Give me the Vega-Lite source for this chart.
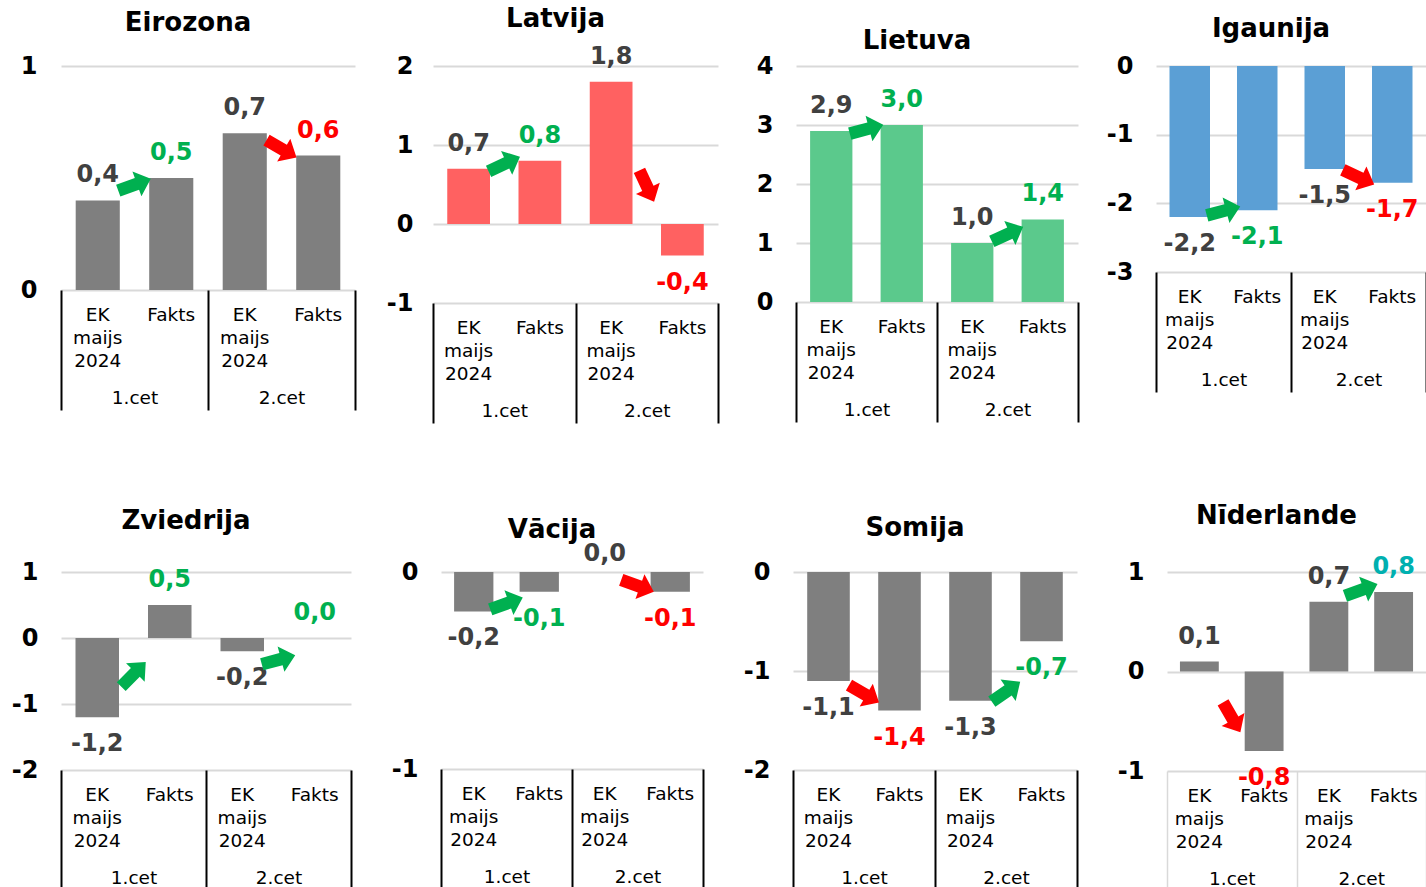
{
  "$schema": "https://vega.github.io/schema/vega-lite/v6.json",
  "padding": {"left": 11, "top": 5, "right": 0, "bottom": 0},
  "background": "white",
  "datasets": {
    "vertibas": [
      {"valsts": "Eirozona", "cet": "1.cet", "k": "1.cet|EK maijs 2024", "v": 0.4, "nov": "EK"},
      {"valsts": "Eirozona", "cet": "1.cet", "k": "1.cet|Fakts", "v": 0.5, "nov": "labāk"},
      {"valsts": "Eirozona", "cet": "2.cet", "k": "2.cet|EK maijs 2024", "v": 0.7, "nov": "EK"},
      {"valsts": "Eirozona", "cet": "2.cet", "k": "2.cet|Fakts", "v": 0.6, "nov": "sliktāk"},
      {"valsts": "Latvija", "cet": "1.cet", "k": "1.cet|EK maijs 2024", "v": 0.7, "nov": "EK"},
      {"valsts": "Latvija", "cet": "1.cet", "k": "1.cet|Fakts", "v": 0.8, "nov": "labāk"},
      {"valsts": "Latvija", "cet": "2.cet", "k": "2.cet|EK maijs 2024", "v": 1.8, "nov": "EK"},
      {"valsts": "Latvija", "cet": "2.cet", "k": "2.cet|Fakts", "v": -0.4, "nov": "sliktāk"},
      {"valsts": "Lietuva", "cet": "1.cet", "k": "1.cet|EK maijs 2024", "v": 2.9, "nov": "EK"},
      {"valsts": "Lietuva", "cet": "1.cet", "k": "1.cet|Fakts", "v": 3.0, "nov": "labāk"},
      {"valsts": "Lietuva", "cet": "2.cet", "k": "2.cet|EK maijs 2024", "v": 1.0, "nov": "EK"},
      {"valsts": "Lietuva", "cet": "2.cet", "k": "2.cet|Fakts", "v": 1.4, "nov": "labāk"},
      {"valsts": "Igaunija", "cet": "1.cet", "k": "1.cet|EK maijs 2024", "v": -2.2, "nov": "EK"},
      {"valsts": "Igaunija", "cet": "1.cet", "k": "1.cet|Fakts", "v": -2.1, "nov": "labāk"},
      {"valsts": "Igaunija", "cet": "2.cet", "k": "2.cet|EK maijs 2024", "v": -1.5, "nov": "EK"},
      {"valsts": "Igaunija", "cet": "2.cet", "k": "2.cet|Fakts", "v": -1.7, "nov": "sliktāk"},
      {"valsts": "Zviedrija", "cet": "1.cet", "k": "1.cet|EK maijs 2024", "v": -1.2, "nov": "EK"},
      {"valsts": "Zviedrija", "cet": "1.cet", "k": "1.cet|Fakts", "v": 0.5, "nov": "labāk"},
      {"valsts": "Zviedrija", "cet": "2.cet", "k": "2.cet|EK maijs 2024", "v": -0.2, "nov": "EK"},
      {"valsts": "Zviedrija", "cet": "2.cet", "k": "2.cet|Fakts", "v": 0.0, "nov": "labāk"},
      {"valsts": "Vācija", "cet": "1.cet", "k": "1.cet|EK maijs 2024", "v": -0.2, "nov": "EK"},
      {"valsts": "Vācija", "cet": "1.cet", "k": "1.cet|Fakts", "v": -0.1, "nov": "labāk"},
      {"valsts": "Vācija", "cet": "2.cet", "k": "2.cet|EK maijs 2024", "v": 0.0, "nov": "EK"},
      {"valsts": "Vācija", "cet": "2.cet", "k": "2.cet|Fakts", "v": -0.1, "nov": "sliktāk"},
      {"valsts": "Somija", "cet": "1.cet", "k": "1.cet|EK maijs 2024", "v": -1.1, "nov": "EK"},
      {"valsts": "Somija", "cet": "1.cet", "k": "1.cet|Fakts", "v": -1.4, "nov": "sliktāk"},
      {"valsts": "Somija", "cet": "2.cet", "k": "2.cet|EK maijs 2024", "v": -1.3, "nov": "EK"},
      {"valsts": "Somija", "cet": "2.cet", "k": "2.cet|Fakts", "v": -0.7, "nov": "labāk"},
      {"valsts": "Nīderlande", "cet": "1.cet", "k": "1.cet|EK maijs 2024", "v": 0.1, "nov": "EK"},
      {"valsts": "Nīderlande", "cet": "1.cet", "k": "1.cet|Fakts", "v": -0.8, "nov": "sliktāk"},
      {"valsts": "Nīderlande", "cet": "2.cet", "k": "2.cet|EK maijs 2024", "v": 0.7, "nov": "EK"},
      {"valsts": "Nīderlande", "cet": "2.cet", "k": "2.cet|Fakts", "v": 0.8, "nov": "labāk (cits)"}
    ],
    "bultas": [
      {"valsts": "Eirozona", "k": "1.cet|Fakts", "y": 0.47, "lenkis": -20, "nov": "labāk"},
      {"valsts": "Eirozona", "k": "2.cet|Fakts", "y": 0.63, "lenkis": 30, "nov": "sliktāk"},
      {"valsts": "Latvija", "k": "1.cet|Fakts", "y": 0.76, "lenkis": -25, "nov": "labāk"},
      {"valsts": "Latvija", "k": "2.cet|Fakts", "y": 0.48, "lenkis": 65, "nov": "sliktāk"},
      {"valsts": "Lietuva", "k": "1.cet|Fakts", "y": 2.93, "lenkis": -15, "nov": "labāk"},
      {"valsts": "Lietuva", "k": "2.cet|Fakts", "y": 1.15, "lenkis": -25, "nov": "labāk"},
      {"valsts": "Igaunija", "k": "1.cet|Fakts", "y": -2.11, "lenkis": -15, "nov": "labāk"},
      {"valsts": "Igaunija", "k": "2.cet|Fakts", "y": -1.62, "lenkis": 25, "nov": "sliktāk"},
      {"valsts": "Zviedrija", "k": "1.cet|Fakts", "y": -0.55, "lenkis": -45, "nov": "labāk"},
      {"valsts": "Zviedrija", "k": "2.cet|Fakts", "y": -0.33, "lenkis": -15, "nov": "labāk"},
      {"valsts": "Vācija", "k": "1.cet|Fakts", "y": -0.16, "lenkis": -20, "nov": "labāk"},
      {"valsts": "Vācija", "k": "2.cet|Fakts", "y": -0.07, "lenkis": 20, "nov": "sliktāk"},
      {"valsts": "Somija", "k": "1.cet|Fakts", "y": -1.23, "lenkis": 30, "nov": "sliktāk"},
      {"valsts": "Somija", "k": "2.cet|Fakts", "y": -1.21, "lenkis": -35, "nov": "labāk"},
      {"valsts": "Nīderlande", "k": "1.cet|Fakts", "y": -0.46, "lenkis": 60, "nov": "sliktāk"},
      {"valsts": "Nīderlande", "k": "2.cet|Fakts", "y": 0.82, "lenkis": -20, "nov": "labāk"}
    ]
  },
  "vconcat": [
    {
      "bounds": "flush",
      "spacing": 78,
      "hconcat": [
        {
          "width": 294, "height": 224,
          "title": {"text": "Eirozona", "offset": 18, "dx": -20},
          "layer": [
            {"layer": [
              {"data": {"name": "vertibas"}, "transform": [{"filter": "datum.valsts === 'Eirozona'"}],
               "mark": {"type": "bar", "color": "#7F7F7F"},
               "encoding": {
                 "x": {"field": "k", "type": "nominal", "scale": {"paddingInner": 0.4, "paddingOuter": 0.2}, "axis": {"domain": false, "ticks": false, "grid": false, "labelExpr": "split(split(datum.value, '|')[1], ' ')", "labelAngle": 0, "labelFontSize": 18.5, "labelColor": "black", "labelPadding": 15, "labelLineHeight": 23, "labelBaseline": "top", "labelOverlap": false, "title": null}},
                 "y": {"field": "v", "type": "quantitative", "scale": {"domain": [0, 1], "nice": false, "zero": false}, "axis": {"values": [0, 1], "labelPadding": 24, "title": null}}
               }},
              {"data": {"name": "vertibas"}, "transform": [{"filter": "datum.valsts === 'Eirozona' && datum.v >= 0"}],
               "mark": {"type": "text", "baseline": "middle", "dy": -25, "fontSize": 24, "fontWeight": "bold"},
               "encoding": {"x": {"field": "k", "type": "nominal"}, "y": {"field": "v", "type": "quantitative"}, "text": {"field": "v", "type": "quantitative", "format": ".1f"}, "color": {"field": "nov", "type": "nominal", "scale": {"domain": ["EK", "labāk", "sliktāk", "labāk (cits)"], "range": ["#404040", "#00B050", "#FF0000", "#00B0B0"]}, "legend": null}}},
              {"data": {"name": "vertibas"}, "transform": [{"filter": "datum.valsts === 'Eirozona' && datum.v < 0"}],
               "mark": {"type": "text", "baseline": "middle", "dy": 27, "fontSize": 24, "fontWeight": "bold"},
               "encoding": {"x": {"field": "k", "type": "nominal"}, "y": {"field": "v", "type": "quantitative"}, "text": {"field": "v", "type": "quantitative", "format": ".1f"}, "color": {"field": "nov", "type": "nominal", "scale": {"domain": ["EK", "labāk", "sliktāk", "labāk (cits)"], "range": ["#404040", "#00B050", "#FF0000", "#00B0B0"]}, "legend": null}}},
              {"data": {"name": "bultas"}, "transform": [{"filter": "datum.valsts === 'Eirozona'"}],
               "mark": {"type": "point", "filled": true, "opacity": 1, "size": 1200, "shape": "M-1,-0.36L0.15,-0.36L0.15,-0.76L1,0L0.15,0.76L0.15,0.36L-1,0.36Z", "xOffset": -36.75},
               "encoding": {"x": {"field": "k", "type": "nominal"}, "y": {"field": "y", "type": "quantitative"}, "angle": {"field": "lenkis", "type": "quantitative", "scale": null}, "color": {"field": "nov", "type": "nominal", "scale": {"domain": ["EK", "labāk", "sliktāk", "labāk (cits)"], "range": ["#404040", "#00B050", "#FF0000", "#00B0B0"]}, "legend": null}}},
              {"mark": {"type": "rule", "color": "black", "strokeWidth": 2}, "encoding": {"y": {"datum": 0}}}
            ]},
            {"data": {"name": "vertibas"}, "transform": [{"filter": "datum.valsts === 'Eirozona'"}],
             "mark": {"type": "point", "opacity": 0},
             "encoding": {"x": {"field": "cet", "type": "nominal", "scale": {"type": "band", "paddingInner": 0, "paddingOuter": 0}, "axis": {"orient": "bottom", "tickBand": "extent", "ticks": true, "tickSize": 120, "tickColor": "black", "tickWidth": 2, "domain": false, "grid": false, "labelAngle": 0, "labelFontSize": 18.5, "labelColor": "black", "labelPadding": -22, "labelBaseline": "top", "title": null}}}}
          ],
          "resolve": {"scale": {"x": "independent"}, "axis": {"x": "independent"}}
        },
        {
          "width": 285, "height": 237,
          "title": {"text": "Latvija", "offset": 13, "dx": -20},
          "layer": [
            {"layer": [
              {"data": {"name": "vertibas"}, "transform": [{"filter": "datum.valsts === 'Latvija'"}],
               "mark": {"type": "bar", "color": "#FF6161"},
               "encoding": {
                 "x": {"field": "k", "type": "nominal", "scale": {"paddingInner": 0.4, "paddingOuter": 0.2}, "axis": {"domain": false, "ticks": false, "grid": false, "labelExpr": "split(split(datum.value, '|')[1], ' ')", "labelAngle": 0, "labelFontSize": 18.5, "labelColor": "black", "labelPadding": 15, "labelLineHeight": 23, "labelBaseline": "top", "labelOverlap": false, "title": null}},
                 "y": {"field": "v", "type": "quantitative", "scale": {"domain": [-1, 2], "nice": false, "zero": false}, "axis": {"values": [-1, 0, 1, 2], "labelPadding": 20, "title": null}}
               }},
              {"data": {"name": "vertibas"}, "transform": [{"filter": "datum.valsts === 'Latvija' && datum.v >= 0"}],
               "mark": {"type": "text", "baseline": "middle", "dy": -25, "fontSize": 24, "fontWeight": "bold"},
               "encoding": {"x": {"field": "k", "type": "nominal"}, "y": {"field": "v", "type": "quantitative"}, "text": {"field": "v", "type": "quantitative", "format": ".1f"}, "color": {"field": "nov", "type": "nominal", "scale": {"domain": ["EK", "labāk", "sliktāk", "labāk (cits)"], "range": ["#404040", "#00B050", "#FF0000", "#00B0B0"]}, "legend": null}}},
              {"data": {"name": "vertibas"}, "transform": [{"filter": "datum.valsts === 'Latvija' && datum.v < 0"}],
               "mark": {"type": "text", "baseline": "middle", "dy": 27, "fontSize": 24, "fontWeight": "bold"},
               "encoding": {"x": {"field": "k", "type": "nominal"}, "y": {"field": "v", "type": "quantitative"}, "text": {"field": "v", "type": "quantitative", "format": ".1f"}, "color": {"field": "nov", "type": "nominal", "scale": {"domain": ["EK", "labāk", "sliktāk", "labāk (cits)"], "range": ["#404040", "#00B050", "#FF0000", "#00B0B0"]}, "legend": null}}},
              {"data": {"name": "bultas"}, "transform": [{"filter": "datum.valsts === 'Latvija'"}],
               "mark": {"type": "point", "filled": true, "opacity": 1, "size": 1200, "shape": "M-1,-0.36L0.15,-0.36L0.15,-0.76L1,0L0.15,0.76L0.15,0.36L-1,0.36Z", "xOffset": -35.6},
               "encoding": {"x": {"field": "k", "type": "nominal"}, "y": {"field": "y", "type": "quantitative"}, "angle": {"field": "lenkis", "type": "quantitative", "scale": null}, "color": {"field": "nov", "type": "nominal", "scale": {"domain": ["EK", "labāk", "sliktāk", "labāk (cits)"], "range": ["#404040", "#00B050", "#FF0000", "#00B0B0"]}, "legend": null}}},
              {"mark": {"type": "rule", "color": "black", "strokeWidth": 2}, "encoding": {"y": {"datum": 0}}}
            ]},
            {"data": {"name": "vertibas"}, "transform": [{"filter": "datum.valsts === 'Latvija'"}],
             "mark": {"type": "point", "opacity": 0},
             "encoding": {"x": {"field": "cet", "type": "nominal", "scale": {"type": "band", "paddingInner": 0, "paddingOuter": 0}, "axis": {"orient": "bottom", "tickBand": "extent", "ticks": true, "tickSize": 120, "tickColor": "black", "tickWidth": 2, "domain": false, "grid": false, "labelAngle": 0, "labelFontSize": 18.5, "labelColor": "black", "labelPadding": -22, "labelBaseline": "top", "title": null}}}}
          ],
          "resolve": {"scale": {"x": "independent"}, "axis": {"x": "independent"}}
        },
        {
          "width": 282, "height": 236,
          "title": {"text": "Lietuva", "offset": 0, "dx": -20},
          "layer": [
            {"layer": [
              {"data": {"name": "vertibas"}, "transform": [{"filter": "datum.valsts === 'Lietuva'"}],
               "mark": {"type": "bar", "color": "#5BC98C"},
               "encoding": {
                 "x": {"field": "k", "type": "nominal", "scale": {"paddingInner": 0.4, "paddingOuter": 0.2}, "axis": {"domain": false, "ticks": false, "grid": false, "labelExpr": "split(split(datum.value, '|')[1], ' ')", "labelAngle": 0, "labelFontSize": 18.5, "labelColor": "black", "labelPadding": 15, "labelLineHeight": 23, "labelBaseline": "top", "labelOverlap": false, "title": null}},
                 "y": {"field": "v", "type": "quantitative", "scale": {"domain": [0, 4], "nice": false, "zero": false}, "axis": {"values": [0, 1, 2, 3, 4], "labelPadding": 23, "title": null}}
               }},
              {"data": {"name": "vertibas"}, "transform": [{"filter": "datum.valsts === 'Lietuva' && datum.v >= 0"}],
               "mark": {"type": "text", "baseline": "middle", "dy": -25, "fontSize": 24, "fontWeight": "bold"},
               "encoding": {"x": {"field": "k", "type": "nominal"}, "y": {"field": "v", "type": "quantitative"}, "text": {"field": "v", "type": "quantitative", "format": ".1f"}, "color": {"field": "nov", "type": "nominal", "scale": {"domain": ["EK", "labāk", "sliktāk", "labāk (cits)"], "range": ["#404040", "#00B050", "#FF0000", "#00B0B0"]}, "legend": null}}},
              {"data": {"name": "vertibas"}, "transform": [{"filter": "datum.valsts === 'Lietuva' && datum.v < 0"}],
               "mark": {"type": "text", "baseline": "middle", "dy": 27, "fontSize": 24, "fontWeight": "bold"},
               "encoding": {"x": {"field": "k", "type": "nominal"}, "y": {"field": "v", "type": "quantitative"}, "text": {"field": "v", "type": "quantitative", "format": ".1f"}, "color": {"field": "nov", "type": "nominal", "scale": {"domain": ["EK", "labāk", "sliktāk", "labāk (cits)"], "range": ["#404040", "#00B050", "#FF0000", "#00B0B0"]}, "legend": null}}},
              {"data": {"name": "bultas"}, "transform": [{"filter": "datum.valsts === 'Lietuva'"}],
               "mark": {"type": "point", "filled": true, "opacity": 1, "size": 1200, "shape": "M-1,-0.36L0.15,-0.36L0.15,-0.76L1,0L0.15,0.76L0.15,0.36L-1,0.36Z", "xOffset": -35.25},
               "encoding": {"x": {"field": "k", "type": "nominal"}, "y": {"field": "y", "type": "quantitative"}, "angle": {"field": "lenkis", "type": "quantitative", "scale": null}, "color": {"field": "nov", "type": "nominal", "scale": {"domain": ["EK", "labāk", "sliktāk", "labāk (cits)"], "range": ["#404040", "#00B050", "#FF0000", "#00B0B0"]}, "legend": null}}},
              {"mark": {"type": "rule", "color": "black", "strokeWidth": 2}, "encoding": {"y": {"datum": 0}}}
            ]},
            {"data": {"name": "vertibas"}, "transform": [{"filter": "datum.valsts === 'Lietuva'"}],
             "mark": {"type": "point", "opacity": 0},
             "encoding": {"x": {"field": "cet", "type": "nominal", "scale": {"type": "band", "paddingInner": 0, "paddingOuter": 0}, "axis": {"orient": "bottom", "tickBand": "extent", "ticks": true, "tickSize": 120, "tickColor": "black", "tickWidth": 2, "domain": false, "grid": false, "labelAngle": 0, "labelFontSize": 18.5, "labelColor": "black", "labelPadding": -22, "labelBaseline": "top", "title": null}}}}
          ],
          "resolve": {"scale": {"x": "independent"}, "axis": {"x": "independent"}}
        },
        {
          "width": 270, "height": 206,
          "title": {"text": "Igaunija", "offset": 12, "dx": -20},
          "layer": [
            {"layer": [
              {"data": {"name": "vertibas"}, "transform": [{"filter": "datum.valsts === 'Igaunija'"}],
               "mark": {"type": "bar", "color": "#5B9FD5"},
               "encoding": {
                 "x": {"field": "k", "type": "nominal", "scale": {"paddingInner": 0.4, "paddingOuter": 0.2}, "axis": {"domain": false, "ticks": false, "grid": false, "labelExpr": "split(split(datum.value, '|')[1], ' ')", "labelAngle": 0, "labelFontSize": 18.5, "labelColor": "black", "labelPadding": 15, "labelLineHeight": 23, "labelBaseline": "top", "labelOverlap": false, "title": null}},
                 "y": {"field": "v", "type": "quantitative", "scale": {"domain": [-3, 0], "nice": false, "zero": false}, "axis": {"values": [-3, -2, -1, 0], "labelPadding": 23, "title": null}}
               }},
              {"data": {"name": "vertibas"}, "transform": [{"filter": "datum.valsts === 'Igaunija' && datum.v >= 0"}],
               "mark": {"type": "text", "baseline": "middle", "dy": -25, "fontSize": 24, "fontWeight": "bold"},
               "encoding": {"x": {"field": "k", "type": "nominal"}, "y": {"field": "v", "type": "quantitative"}, "text": {"field": "v", "type": "quantitative", "format": ".1f"}, "color": {"field": "nov", "type": "nominal", "scale": {"domain": ["EK", "labāk", "sliktāk", "labāk (cits)"], "range": ["#404040", "#00B050", "#FF0000", "#00B0B0"]}, "legend": null}}},
              {"data": {"name": "vertibas"}, "transform": [{"filter": "datum.valsts === 'Igaunija' && datum.v < 0"}],
               "mark": {"type": "text", "baseline": "middle", "dy": 27, "fontSize": 24, "fontWeight": "bold"},
               "encoding": {"x": {"field": "k", "type": "nominal"}, "y": {"field": "v", "type": "quantitative"}, "text": {"field": "v", "type": "quantitative", "format": ".1f"}, "color": {"field": "nov", "type": "nominal", "scale": {"domain": ["EK", "labāk", "sliktāk", "labāk (cits)"], "range": ["#404040", "#00B050", "#FF0000", "#00B0B0"]}, "legend": null}}},
              {"data": {"name": "bultas"}, "transform": [{"filter": "datum.valsts === 'Igaunija'"}],
               "mark": {"type": "point", "filled": true, "opacity": 1, "size": 1200, "shape": "M-1,-0.36L0.15,-0.36L0.15,-0.76L1,0L0.15,0.76L0.15,0.36L-1,0.36Z", "xOffset": -33.75},
               "encoding": {"x": {"field": "k", "type": "nominal"}, "y": {"field": "y", "type": "quantitative"}, "angle": {"field": "lenkis", "type": "quantitative", "scale": null}, "color": {"field": "nov", "type": "nominal", "scale": {"domain": ["EK", "labāk", "sliktāk", "labāk (cits)"], "range": ["#404040", "#00B050", "#FF0000", "#00B0B0"]}, "legend": null}}},
              {"mark": {"type": "rule", "color": "black", "strokeWidth": 2}, "encoding": {"y": {"datum": 0}}}
            ]},
            {"data": {"name": "vertibas"}, "transform": [{"filter": "datum.valsts === 'Igaunija'"}],
             "mark": {"type": "point", "opacity": 0},
             "encoding": {"x": {"field": "cet", "type": "nominal", "scale": {"type": "band", "paddingInner": 0, "paddingOuter": 0}, "axis": {"orient": "bottom", "tickBand": "extent", "ticks": true, "tickSize": 120, "tickColor": "black", "tickWidth": 2, "domain": false, "grid": false, "labelAngle": 0, "labelFontSize": 18.5, "labelColor": "black", "labelPadding": -22, "labelBaseline": "top", "title": null}}}}
          ],
          "resolve": {"scale": {"x": "independent"}, "axis": {"x": "independent"}}
        }
      ]
    },
    {
      "bounds": "flush",
      "spacing": 90,
      "hconcat": [
        {
          "width": 290, "height": 198,
          "title": {"text": "Zviedrija", "offset": 26, "dx": -20},
          "layer": [
            {"layer": [
              {"data": {"name": "vertibas"}, "transform": [{"filter": "datum.valsts === 'Zviedrija'"}],
               "mark": {"type": "bar", "color": "#7F7F7F"},
               "encoding": {
                 "x": {"field": "k", "type": "nominal", "scale": {"paddingInner": 0.4, "paddingOuter": 0.2}, "axis": {"domain": false, "ticks": false, "grid": false, "labelExpr": "split(split(datum.value, '|')[1], ' ')", "labelAngle": 0, "labelFontSize": 18.5, "labelColor": "black", "labelPadding": 15, "labelLineHeight": 23, "labelBaseline": "top", "labelOverlap": false, "title": null}},
                 "y": {"field": "v", "type": "quantitative", "scale": {"domain": [-2, 1], "nice": false, "zero": false}, "axis": {"values": [-2, -1, 0, 1], "labelPadding": 23, "title": null}}
               }},
              {"data": {"name": "vertibas"}, "transform": [{"filter": "datum.valsts === 'Zviedrija' && datum.v >= 0"}],
               "mark": {"type": "text", "baseline": "middle", "dy": -25, "fontSize": 24, "fontWeight": "bold"},
               "encoding": {"x": {"field": "k", "type": "nominal"}, "y": {"field": "v", "type": "quantitative"}, "text": {"field": "v", "type": "quantitative", "format": ".1f"}, "color": {"field": "nov", "type": "nominal", "scale": {"domain": ["EK", "labāk", "sliktāk", "labāk (cits)"], "range": ["#404040", "#00B050", "#FF0000", "#00B0B0"]}, "legend": null}}},
              {"data": {"name": "vertibas"}, "transform": [{"filter": "datum.valsts === 'Zviedrija' && datum.v < 0"}],
               "mark": {"type": "text", "baseline": "middle", "dy": 27, "fontSize": 24, "fontWeight": "bold"},
               "encoding": {"x": {"field": "k", "type": "nominal"}, "y": {"field": "v", "type": "quantitative"}, "text": {"field": "v", "type": "quantitative", "format": ".1f"}, "color": {"field": "nov", "type": "nominal", "scale": {"domain": ["EK", "labāk", "sliktāk", "labāk (cits)"], "range": ["#404040", "#00B050", "#FF0000", "#00B0B0"]}, "legend": null}}},
              {"data": {"name": "bultas"}, "transform": [{"filter": "datum.valsts === 'Zviedrija'"}],
               "mark": {"type": "point", "filled": true, "opacity": 1, "size": 1200, "shape": "M-1,-0.36L0.15,-0.36L0.15,-0.76L1,0L0.15,0.76L0.15,0.36L-1,0.36Z", "xOffset": -36.25},
               "encoding": {"x": {"field": "k", "type": "nominal"}, "y": {"field": "y", "type": "quantitative"}, "angle": {"field": "lenkis", "type": "quantitative", "scale": null}, "color": {"field": "nov", "type": "nominal", "scale": {"domain": ["EK", "labāk", "sliktāk", "labāk (cits)"], "range": ["#404040", "#00B050", "#FF0000", "#00B0B0"]}, "legend": null}}},
              {"mark": {"type": "rule", "color": "black", "strokeWidth": 2}, "encoding": {"y": {"datum": 0}}}
            ]},
            {"data": {"name": "vertibas"}, "transform": [{"filter": "datum.valsts === 'Zviedrija'"}],
             "mark": {"type": "point", "opacity": 0},
             "encoding": {"x": {"field": "cet", "type": "nominal", "scale": {"type": "band", "paddingInner": 0, "paddingOuter": 0}, "axis": {"orient": "bottom", "tickBand": "extent", "ticks": true, "tickSize": 120, "tickColor": "black", "tickWidth": 2, "domain": false, "grid": false, "labelAngle": 0, "labelFontSize": 18.5, "labelColor": "black", "labelPadding": -22, "labelBaseline": "top", "title": null}}}}
          ],
          "resolve": {"scale": {"x": "independent"}, "axis": {"x": "independent"}}
        },
        {
          "width": 262, "height": 197,
          "title": {"text": "Vācija", "offset": -1, "dx": -20},
          "layer": [
            {"layer": [
              {"data": {"name": "vertibas"}, "transform": [{"filter": "datum.valsts === 'Vācija'"}],
               "mark": {"type": "bar", "color": "#7F7F7F"},
               "encoding": {
                 "x": {"field": "k", "type": "nominal", "scale": {"paddingInner": 0.4, "paddingOuter": 0.2}, "axis": {"domain": false, "ticks": false, "grid": false, "labelExpr": "split(split(datum.value, '|')[1], ' ')", "labelAngle": 0, "labelFontSize": 18.5, "labelColor": "black", "labelPadding": 15, "labelLineHeight": 23, "labelBaseline": "top", "labelOverlap": false, "title": null}},
                 "y": {"field": "v", "type": "quantitative", "scale": {"domain": [-1, 0], "nice": false, "zero": false}, "axis": {"values": [-1, 0], "labelPadding": 23, "title": null}}
               }},
              {"data": {"name": "vertibas"}, "transform": [{"filter": "datum.valsts === 'Vācija' && datum.v >= 0"}],
               "mark": {"type": "text", "baseline": "middle", "dy": -18, "fontSize": 24, "fontWeight": "bold"},
               "encoding": {"x": {"field": "k", "type": "nominal"}, "y": {"field": "v", "type": "quantitative"}, "text": {"field": "v", "type": "quantitative", "format": ".1f"}, "color": {"field": "nov", "type": "nominal", "scale": {"domain": ["EK", "labāk", "sliktāk", "labāk (cits)"], "range": ["#404040", "#00B050", "#FF0000", "#00B0B0"]}, "legend": null}}},
              {"data": {"name": "vertibas"}, "transform": [{"filter": "datum.valsts === 'Vācija' && datum.v < 0"}],
               "mark": {"type": "text", "baseline": "middle", "dy": 27, "fontSize": 24, "fontWeight": "bold"},
               "encoding": {"x": {"field": "k", "type": "nominal"}, "y": {"field": "v", "type": "quantitative"}, "text": {"field": "v", "type": "quantitative", "format": ".1f"}, "color": {"field": "nov", "type": "nominal", "scale": {"domain": ["EK", "labāk", "sliktāk", "labāk (cits)"], "range": ["#404040", "#00B050", "#FF0000", "#00B0B0"]}, "legend": null}}},
              {"data": {"name": "bultas"}, "transform": [{"filter": "datum.valsts === 'Vācija'"}],
               "mark": {"type": "point", "filled": true, "opacity": 1, "size": 1200, "shape": "M-1,-0.36L0.15,-0.36L0.15,-0.76L1,0L0.15,0.76L0.15,0.36L-1,0.36Z", "xOffset": -32.75},
               "encoding": {"x": {"field": "k", "type": "nominal"}, "y": {"field": "y", "type": "quantitative"}, "angle": {"field": "lenkis", "type": "quantitative", "scale": null}, "color": {"field": "nov", "type": "nominal", "scale": {"domain": ["EK", "labāk", "sliktāk", "labāk (cits)"], "range": ["#404040", "#00B050", "#FF0000", "#00B0B0"]}, "legend": null}}},
              {"mark": {"type": "rule", "color": "black", "strokeWidth": 2}, "encoding": {"y": {"datum": 0}}}
            ]},
            {"data": {"name": "vertibas"}, "transform": [{"filter": "datum.valsts === 'Vācija'"}],
             "mark": {"type": "point", "opacity": 0},
             "encoding": {"x": {"field": "cet", "type": "nominal", "scale": {"type": "band", "paddingInner": 0, "paddingOuter": 0}, "axis": {"orient": "bottom", "tickBand": "extent", "ticks": true, "tickSize": 120, "tickColor": "black", "tickWidth": 2, "domain": false, "grid": false, "labelAngle": 0, "labelFontSize": 18.5, "labelColor": "black", "labelPadding": -22, "labelBaseline": "top", "title": null}}}}
          ],
          "resolve": {"scale": {"x": "independent"}, "axis": {"x": "independent"}}
        },
        {
          "width": 284, "height": 198,
          "title": {"text": "Somija", "offset": 19, "dx": -20},
          "layer": [
            {"layer": [
              {"data": {"name": "vertibas"}, "transform": [{"filter": "datum.valsts === 'Somija'"}],
               "mark": {"type": "bar", "color": "#7F7F7F"},
               "encoding": {
                 "x": {"field": "k", "type": "nominal", "scale": {"paddingInner": 0.4, "paddingOuter": 0.2}, "axis": {"domain": false, "ticks": false, "grid": false, "labelExpr": "split(split(datum.value, '|')[1], ' ')", "labelAngle": 0, "labelFontSize": 18.5, "labelColor": "black", "labelPadding": 15, "labelLineHeight": 23, "labelBaseline": "top", "labelOverlap": false, "title": null}},
                 "y": {"field": "v", "type": "quantitative", "scale": {"domain": [-2, 0], "nice": false, "zero": false}, "axis": {"values": [-2, -1, 0], "labelPadding": 23, "title": null}}
               }},
              {"data": {"name": "vertibas"}, "transform": [{"filter": "datum.valsts === 'Somija' && datum.v >= 0"}],
               "mark": {"type": "text", "baseline": "middle", "dy": -25, "fontSize": 24, "fontWeight": "bold"},
               "encoding": {"x": {"field": "k", "type": "nominal"}, "y": {"field": "v", "type": "quantitative"}, "text": {"field": "v", "type": "quantitative", "format": ".1f"}, "color": {"field": "nov", "type": "nominal", "scale": {"domain": ["EK", "labāk", "sliktāk", "labāk (cits)"], "range": ["#404040", "#00B050", "#FF0000", "#00B0B0"]}, "legend": null}}},
              {"data": {"name": "vertibas"}, "transform": [{"filter": "datum.valsts === 'Somija' && datum.v < 0"}],
               "mark": {"type": "text", "baseline": "middle", "dy": 27, "fontSize": 24, "fontWeight": "bold"},
               "encoding": {"x": {"field": "k", "type": "nominal"}, "y": {"field": "v", "type": "quantitative"}, "text": {"field": "v", "type": "quantitative", "format": ".1f"}, "color": {"field": "nov", "type": "nominal", "scale": {"domain": ["EK", "labāk", "sliktāk", "labāk (cits)"], "range": ["#404040", "#00B050", "#FF0000", "#00B0B0"]}, "legend": null}}},
              {"data": {"name": "bultas"}, "transform": [{"filter": "datum.valsts === 'Somija'"}],
               "mark": {"type": "point", "filled": true, "opacity": 1, "size": 1200, "shape": "M-1,-0.36L0.15,-0.36L0.15,-0.76L1,0L0.15,0.76L0.15,0.36L-1,0.36Z", "xOffset": -35.5},
               "encoding": {"x": {"field": "k", "type": "nominal"}, "y": {"field": "y", "type": "quantitative"}, "angle": {"field": "lenkis", "type": "quantitative", "scale": null}, "color": {"field": "nov", "type": "nominal", "scale": {"domain": ["EK", "labāk", "sliktāk", "labāk (cits)"], "range": ["#404040", "#00B050", "#FF0000", "#00B0B0"]}, "legend": null}}},
              {"mark": {"type": "rule", "color": "black", "strokeWidth": 2}, "encoding": {"y": {"datum": 0}}}
            ]},
            {"data": {"name": "vertibas"}, "transform": [{"filter": "datum.valsts === 'Somija'"}],
             "mark": {"type": "point", "opacity": 0},
             "encoding": {"x": {"field": "cet", "type": "nominal", "scale": {"type": "band", "paddingInner": 0, "paddingOuter": 0}, "axis": {"orient": "bottom", "tickBand": "extent", "ticks": true, "tickSize": 120, "tickColor": "black", "tickWidth": 2, "domain": false, "grid": false, "labelAngle": 0, "labelFontSize": 18.5, "labelColor": "black", "labelPadding": -22, "labelBaseline": "top", "title": null}}}}
          ],
          "resolve": {"scale": {"x": "independent"}, "axis": {"x": "independent"}}
        },
        {
          "width": 259, "height": 199,
          "title": {"text": "Nīderlande", "offset": 26, "dx": -20},
          "layer": [
            {"layer": [
              {"data": {"name": "vertibas"}, "transform": [{"filter": "datum.valsts === 'Nīderlande'"}],
               "mark": {"type": "bar", "color": "#7F7F7F"},
               "encoding": {
                 "x": {"field": "k", "type": "nominal", "scale": {"paddingInner": 0.4, "paddingOuter": 0.2}, "axis": {"domain": false, "ticks": false, "grid": false, "labelExpr": "split(split(datum.value, '|')[1], ' ')", "labelAngle": 0, "labelFontSize": 18.5, "labelColor": "black", "labelPadding": 15, "labelLineHeight": 23, "labelBaseline": "top", "labelOverlap": false, "title": null}},
                 "y": {"field": "v", "type": "quantitative", "scale": {"domain": [-1, 1], "nice": false, "zero": false}, "axis": {"values": [-1, 0, 1], "labelPadding": 23, "title": null}}
               }},
              {"data": {"name": "vertibas"}, "transform": [{"filter": "datum.valsts === 'Nīderlande' && datum.v >= 0"}],
               "mark": {"type": "text", "baseline": "middle", "dy": -25, "fontSize": 24, "fontWeight": "bold"},
               "encoding": {"x": {"field": "k", "type": "nominal"}, "y": {"field": "v", "type": "quantitative"}, "text": {"field": "v", "type": "quantitative", "format": ".1f"}, "color": {"field": "nov", "type": "nominal", "scale": {"domain": ["EK", "labāk", "sliktāk", "labāk (cits)"], "range": ["#404040", "#00B050", "#FF0000", "#00B0B0"]}, "legend": null}}},
              {"data": {"name": "vertibas"}, "transform": [{"filter": "datum.valsts === 'Nīderlande' && datum.v < 0"}],
               "mark": {"type": "text", "baseline": "middle", "dy": 27, "fontSize": 24, "fontWeight": "bold"},
               "encoding": {"x": {"field": "k", "type": "nominal"}, "y": {"field": "v", "type": "quantitative"}, "text": {"field": "v", "type": "quantitative", "format": ".1f"}, "color": {"field": "nov", "type": "nominal", "scale": {"domain": ["EK", "labāk", "sliktāk", "labāk (cits)"], "range": ["#404040", "#00B050", "#FF0000", "#00B0B0"]}, "legend": null}}},
              {"data": {"name": "bultas"}, "transform": [{"filter": "datum.valsts === 'Nīderlande'"}],
               "mark": {"type": "point", "filled": true, "opacity": 1, "size": 1200, "shape": "M-1,-0.36L0.15,-0.36L0.15,-0.76L1,0L0.15,0.76L0.15,0.36L-1,0.36Z", "xOffset": -32.4},
               "encoding": {"x": {"field": "k", "type": "nominal"}, "y": {"field": "y", "type": "quantitative"}, "angle": {"field": "lenkis", "type": "quantitative", "scale": null}, "color": {"field": "nov", "type": "nominal", "scale": {"domain": ["EK", "labāk", "sliktāk", "labāk (cits)"], "range": ["#404040", "#00B050", "#FF0000", "#00B0B0"]}, "legend": null}}}
            ]},
            {"data": {"name": "vertibas"}, "transform": [{"filter": "datum.valsts === 'Nīderlande'"}],
             "mark": {"type": "point", "opacity": 0},
             "encoding": {"x": {"field": "cet", "type": "nominal", "scale": {"type": "band", "paddingInner": 0, "paddingOuter": 0}, "axis": {"orient": "bottom", "tickBand": "extent", "ticks": true, "tickSize": 120, "tickColor": "#D9D9D9", "tickWidth": 1.5, "domain": false, "grid": false, "labelAngle": 0, "labelFontSize": 18.5, "labelColor": "black", "labelPadding": -22, "labelBaseline": "top", "title": null}}}}
          ],
          "resolve": {"scale": {"x": "independent"}, "axis": {"x": "independent"}}
        }
      ]
    }
  ],
  "spacing": 78,
  "config": {
    "font": "DejaVu Sans",
    "view": {"stroke": null},
    "locale": {"number": {"decimal": ",", "thousands": " ", "grouping": [3], "currency": ["", " €"], "minus": "-"}},
    "title": {"font": "DejaVu Sans", "fontSize": 26, "fontWeight": "bold", "color": "black", "anchor": "middle", "frame": "group"},
    "axisY": {"grid": true, "gridColor": "black", "gridOpacity": 0.15, "gridWidth": 2, "domain": false, "ticks": false, "labelFontSize": 24, "labelFontWeight": "bold", "labelColor": "black", "labelFlush": false, "labelOverlap": false, "labelExpr": "'' + datum.value", "zindex": 1}
  }
}
